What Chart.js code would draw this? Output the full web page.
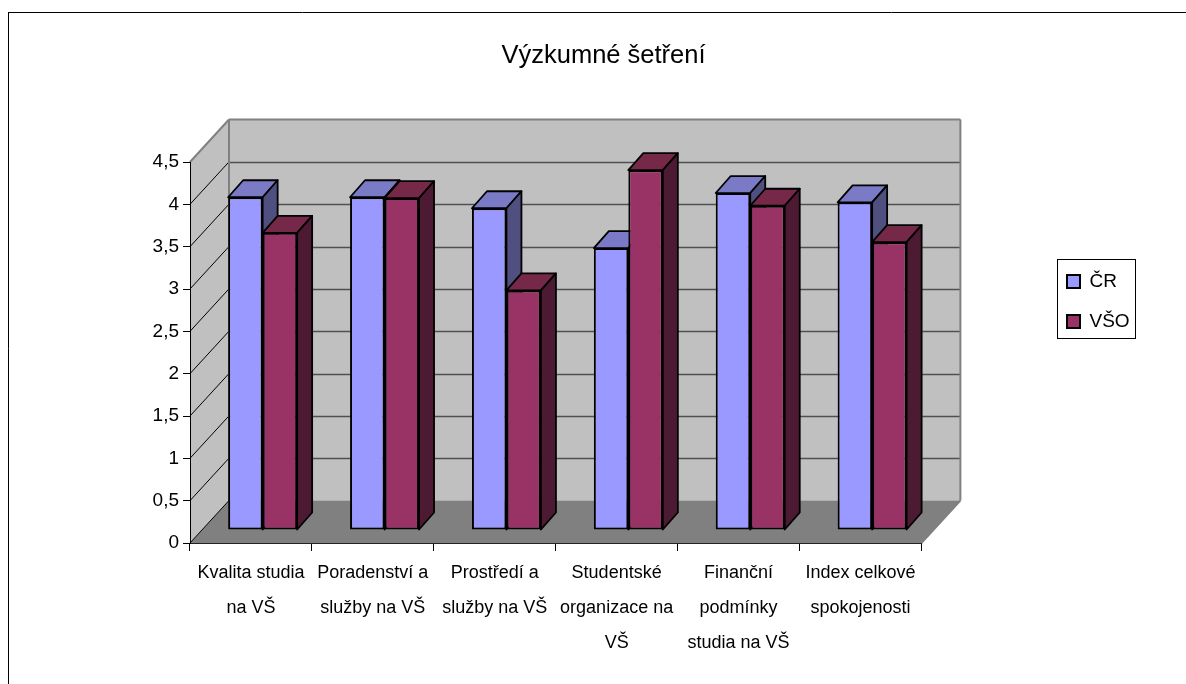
<!DOCTYPE html>
<html>
<head>
<meta charset="utf-8">
<style>
  html, body { margin: 0; padding: 0; background: #fff; overflow: hidden; }
  canvas { display: block; }
</style>
<script src="https://cdn.jsdelivr.net/npm/chart.js@4"></script>
</head>
<body>
<canvas id="myChart" width="1186" height="684"></canvas>
<script>
let categories = [
  ['Kvalita studia', 'na VŠ'],
  ['Poradenství a', 'služby na VŠ'],
  ['Prostředí a', 'služby na VŠ'],
  ['Studentské', 'organizace na', 'VŠ'],
  ['Finanční', 'podmínky', 'studia na VŠ'],
  ['Index celkové', 'spokojenosti']
];
let cr_values = [3.93, 3.93, 3.80, 3.33, 3.98, 3.87];
let vso_values = [3.51, 3.92, 2.83, 4.25, 3.83, 3.40];
let y_labels = ['0', '0,5', '1', '1,5', '2', '2,5', '3', '3,5', '4', '4,5'];

// depth of the fake 3d box and of the bars inside it
const wall_dx = 39, wall_dy = 42.5;
const shift_dx = 11.7, shift_dy = 13;
const bar_dx = 15, bar_dy = 17;

const font_name = '"Liberation Sans", Arial, sans-serif';

const face_colors = [
  { top: '#7a7ac6', side: '#4f4f80' },
  { top: '#762849', side: '#4d1a33' }
];

function poly(ctx, pts, fill, stroke, width) {
  ctx.beginPath();
  ctx.moveTo(pts[0][0], pts[0][1]);
  for (let i = 1; i < pts.length; i++) ctx.lineTo(pts[i][0], pts[i][1]);
  ctx.closePath();
  if (fill) { ctx.fillStyle = fill; ctx.fill(); }
  if (stroke) { ctx.strokeStyle = stroke; ctx.lineWidth = width; ctx.lineJoin = 'round'; ctx.stroke(); }
}

function line(ctx, x1, y1, x2, y2, color, width) {
  ctx.beginPath();
  ctx.moveTo(x1, y1);
  ctx.lineTo(x2, y2);
  ctx.strokeStyle = color;
  ctx.lineWidth = width;
  ctx.stroke();
}

const box3d = {
  id: 'box3d',
  afterLayout(chart) {
    // title and legend do not sit where the layout puts them
    chart.titleBlock.left = 0;
    chart.titleBlock.right = 1207;
    let lg = chart.legend;
    let w = lg.width, h = lg.height;
    lg.left = 1046; lg.right = 1046 + w;
    lg.top = 251; lg.bottom = 251 + h;
  },
  beforeDraw(chart) {
    let ctx = chart.ctx;
    let x = chart.scales.x, y = chart.scales.y;
    let l = x.left, r = x.right, b = y.getPixelForValue(0), t = y.getPixelForValue(4.5);

    ctx.save();
    // page frame
    line(ctx, 8.5, 684, 8.5, 12.5, '#000', 1);
    line(ctx, 8, 12.5, 1186, 12.5, '#000', 1);
    // legend frame
    ctx.strokeStyle = '#000';
    ctx.lineWidth = 1;
    ctx.strokeRect(1057.5, 259.5, 78, 79);

    // walls and floor
    poly(ctx, [[l, t], [l + wall_dx, t - wall_dy], [l + wall_dx, b - wall_dy], [l, b]], '#c0c0c0');
    poly(ctx, [[l + wall_dx, t - wall_dy], [r + wall_dx, t - wall_dy], [r + wall_dx, b - wall_dy], [l + wall_dx, b - wall_dy]], '#c0c0c0');
    poly(ctx, [[l, b], [l + wall_dx, b - wall_dy], [r + wall_dx, b - wall_dy], [r, b]], '#808080');

    // grid on the back wall and its diagonal on the left wall
    y.ticks.forEach(function (tick) {
      let py = y.getPixelForValue(tick.value);
      if (tick.value > 0 && tick.value < 4.5) {
        line(ctx, l + wall_dx, Math.round(py - wall_dy) + 0.5, r + wall_dx, Math.round(py - wall_dy) + 0.5, '#505050', 1.5);
      }
      if (tick.value < 4.5) line(ctx, l, py, l + wall_dx, py - wall_dy, '#000', 1);
    });

    // grey outline of the box
    line(ctx, l, t, l + wall_dx, t - wall_dy, '#808080', 2);
    line(ctx, l + wall_dx, t - wall_dy, r + wall_dx, t - wall_dy, '#808080', 2);
    line(ctx, l + wall_dx, t - wall_dy, l + wall_dx, b - wall_dy, '#808080', 2);
    line(ctx, r + wall_dx, t - wall_dy, r + wall_dx, b - wall_dy, '#808080', 2);
    line(ctx, r + wall_dx, b - wall_dy, r, b, '#808080', 2);
    ctx.restore();
  },
  beforeDatasetsDraw(chart) {
    // tops and sides first, left series under the right one
    let ctx = chart.ctx;
    ctx.save();
    ctx.translate(shift_dx, -shift_dy);
    [0, 1].forEach(function (index) {
      let colors = face_colors[index];
      chart.getDatasetMeta(index).data.forEach(function (bar) {
        let p = bar.getProps(['x', 'y', 'base', 'width'], true);
        let left = p.x - p.width / 2, right = p.x + p.width / 2;
        poly(ctx, [[left, p.y], [left + bar_dx, p.y - bar_dy], [right + bar_dx, p.y - bar_dy], [right, p.y]], colors.top, '#000', 1.8);
        poly(ctx, [[right, p.y], [right + bar_dx, p.y - bar_dy], [right + bar_dx, p.base - bar_dy], [right, p.base]], colors.side, '#000', 1.8);
      });
    });
    ctx.restore();
  },
  beforeDatasetDraw(chart) {
    chart.ctx.save();
    chart.ctx.translate(shift_dx, -shift_dy);
  },
  afterDatasetDraw(chart) {
    chart.ctx.restore();
  }
};

let chart = new Chart(document.getElementById('myChart'), {
  type: 'bar',
  data: {
    labels: categories,
    datasets: [
      { label: 'ČR', data: cr_values, backgroundColor: '#9999ff', borderColor: '#000', borderWidth: 2, borderSkipped: false, clip: false },
      { label: 'VŠO', data: vso_values, backgroundColor: '#993366', borderColor: '#000', borderWidth: 2, borderSkipped: false, clip: false }
    ]
  },
  options: {
    responsive: false,
    animation: false,
    layout: { padding: { left: 0, right: 171, top: 0, bottom: 0 } },
    categoryPercentage: 0.566,
    barPercentage: 1,
    plugins: {
      tooltip: { enabled: false },
      title: {
        display: true,
        text: 'Výzkumné šetření',
        color: '#000',
        font: { family: font_name, size: 25.5, weight: 'normal' },
        padding: { top: 41, bottom: 90.4 }
      },
      legend: {
        position: 'right',
        align: 'start',
        labels: { color: '#000', boxWidth: 13, boxHeight: 13, padding: 21, font: { family: font_name, size: 19 } }
      }
    },
    scales: {
      x: {
        grid: { offset: true, drawOnChartArea: false, drawTicks: true, tickLength: 8, color: '#000' },
        border: { color: '#222', width: 1 },
        ticks: { color: '#000', maxRotation: 0, padding: 5, font: { family: font_name, size: 18, lineHeight: 1.93 } },
        afterFit(s) { s.height = 141; }
      },
      y: {
        min: 0,
        max: 4.5,
        grid: { drawOnChartArea: false, drawTicks: true, tickLength: 7, color: '#000' },
        border: { color: '#000', width: 1 },
        ticks: {
          stepSize: 0.5,
          color: '#000',
          padding: 4,
          font: { family: font_name, size: 19 },
          callback: function (v, i) { return y_labels[i]; }
        },
        afterFit(s) { s.width = 190; }
      }
    }
  },
  plugins: [box3d]
});
</script>
</body>
</html>
